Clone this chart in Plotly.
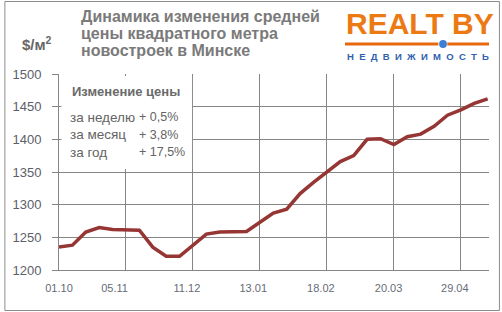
import plotly.graph_objects as go

# ---- data ----
prices = [1235, 1238, 1258, 1265, 1262, 1262, 1261, 1235, 1221, 1221,
          1238, 1255, 1258, 1259, 1259, 1273, 1287, 1293, 1317, 1334,
          1350, 1366, 1375, 1400, 1401, 1392, 1404, 1408, 1420, 1437,
          1445, 1455, 1462]
week_index = list(range(len(prices)))
x_labels = ["01.10", "05.11", "11.12", "13.01", "18.02", "20.03", "29.04"]
y_ticks = [1200, 1250, 1300, 1350, 1400, 1450, 1500]
title_lines = ["Динамика изменения средней", "цены квадратного метра", "новостроек в Минске"]
box_title = "Изменение цены"
change_periods = ["за неделю", "за месяц", "за год"]
change_values = ["+ 0,5%", "+ 3,8%", "+ 17,5%"]

# ---- layout constants ----
W, H = 502, 312
L, R, T, B = 56, 489, 74, 270
label_pos = [0, 4.15, 9.55, 14.5, 19.55, 24.6, 29.55]
grid_pos = [0, 5, 10, 15, 20, 25, 30]
XMAX = 32.1
FONT = "Liberation Sans, Arial, sans-serif"
GRID = "#858585"
TXT = "#646464"

def px(x):
    return (x - L) / (R - L)

def py(y):
    return (B - y) / (B - T)

fig = go.Figure()
fig.add_trace(go.Scatter(x=week_index, y=prices, mode="lines",
                         line=dict(color="#963634", width=3.5),
                         showlegend=False, hoverinfo="skip", xaxis="x", yaxis="y"))
fig.add_trace(go.Scatter(x=week_index, y=prices, mode="none",
                         showlegend=False, hoverinfo="skip", xaxis="x2", yaxis="y"))

annotations = []
for i, t in enumerate(title_lines):
    annotations.append(dict(text="<b>%s</b>" % t, x=px(76), y=py(16 + 17 * i),
                            xref="paper", yref="paper",
                            xanchor="left", yanchor="middle", showarrow=False,
                            font=dict(family=FONT, size=16, color="#7a7a7a")))
annotations.append(dict(text="<b>$/м<sup>2</sup></b>", x=px(17), y=py(44),
                        xref="paper", yref="paper",
                        xanchor="left", yanchor="middle", showarrow=False,
                        font=dict(family=FONT, size=15, color="#666666")))
annotations.append(dict(text="<b>%s</b>" % box_title, x=px(67), y=py(91),
                        xref="paper", yref="paper",
                        xanchor="left", yanchor="middle", showarrow=False,
                        font=dict(family=FONT, size=13, color="#6a6a6a")))
for i, (p, v) in enumerate(zip(change_periods, change_values)):
    yy = 117 + 17.5 * i
    annotations.append(dict(text=p, x=px(65), y=py(yy), xanchor="left", yanchor="middle",
                            xref="paper", yref="paper",
                            showarrow=False, font=dict(family=FONT, size=13.5, color=TXT)))
    annotations.append(dict(text=v, x=px(135), y=py(yy), xanchor="left", yanchor="middle",
                            xref="paper", yref="paper",
                            showarrow=False, font=dict(family=FONT, size=12.5, color=TXT)))
# logo
annotations.append(dict(text="<b>REALT BY</b>", x=px(343), y=py(23),
                        xref="paper", yref="paper",
                        xanchor="left", yanchor="middle", showarrow=False,
                        font=dict(family=FONT, size=30, color="#EC7A14")))
annotations.append(dict(text="<b>" + "\u00a0\u00a0".join("НЕДВИЖИМОСТЬ") + "</b>",
                        xref="paper", yref="paper",
                        x=px(344), y=py(56.5), xanchor="left", yanchor="middle",
                        showarrow=False, font=dict(family=FONT, size=9.5, color="#2f5fae")))

shapes = [
    # white legend box over grid
    dict(type="rect", xref="paper", yref="paper", x0=px(58.5), x1=px(190),
         y0=py(169), y1=py(76), fillcolor="white", line=dict(width=0), layer="above"),
    # outer frame
    dict(type="rect", xref="paper", yref="paper", x0=px(1.5), x1=px(499.5),
         y0=py(310.5), y1=py(1.5), line=dict(color="#8c8c8c", width=1)),
    # logo underline
    dict(type="line", xref="paper", yref="paper", x0=px(344), x1=px(438),
         y0=py(44), y1=py(44), line=dict(color="#E8680E", width=3)),
    dict(type="line", xref="paper", yref="paper", x0=px(447), x1=px(489),
         y0=py(44), y1=py(44), line=dict(color="#E8680E", width=3)),
    dict(type="circle", xref="paper", yref="paper", x0=px(438.8), x1=px(446.6),
         y0=py(47.9), y1=py(40.1), fillcolor="#3d7fd6", line=dict(width=0)),
]

fig.update_layout(
    width=W, height=H,
    margin=dict(l=L, r=W - R, t=T, b=H - B, pad=0),
    paper_bgcolor="white", plot_bgcolor="white",
    font=dict(family=FONT, color=TXT),
    xaxis=dict(range=[0, XMAX], tickmode="array", tickvals=label_pos, ticktext=x_labels,
               showgrid=False, zeroline=False, ticks="", showline=True,
               linecolor=GRID, linewidth=1, ticklabelstandoff=8,
               tickfont=dict(family=FONT, size=11, color="#666c76")),
    xaxis2=dict(range=[0, XMAX], overlaying="x", anchor="y", side="bottom",
                tickmode="array", tickvals=grid_pos, showticklabels=False,
                showgrid=True, gridcolor=GRID, gridwidth=1, zeroline=False, ticks=""),
    yaxis=dict(range=[1200, 1500], tickmode="array", tickvals=y_ticks,
               showgrid=True, gridcolor=GRID, gridwidth=1, zeroline=False,
               ticks="outside", ticklen=6, tickcolor=GRID, showline=True,
               linecolor=GRID, linewidth=1, ticklabelstandoff=8,
               tickfont=dict(family=FONT, size=13, color="#5b606a")),
    annotations=annotations,
    shapes=shapes,
)

fig.write_html("out.html")
